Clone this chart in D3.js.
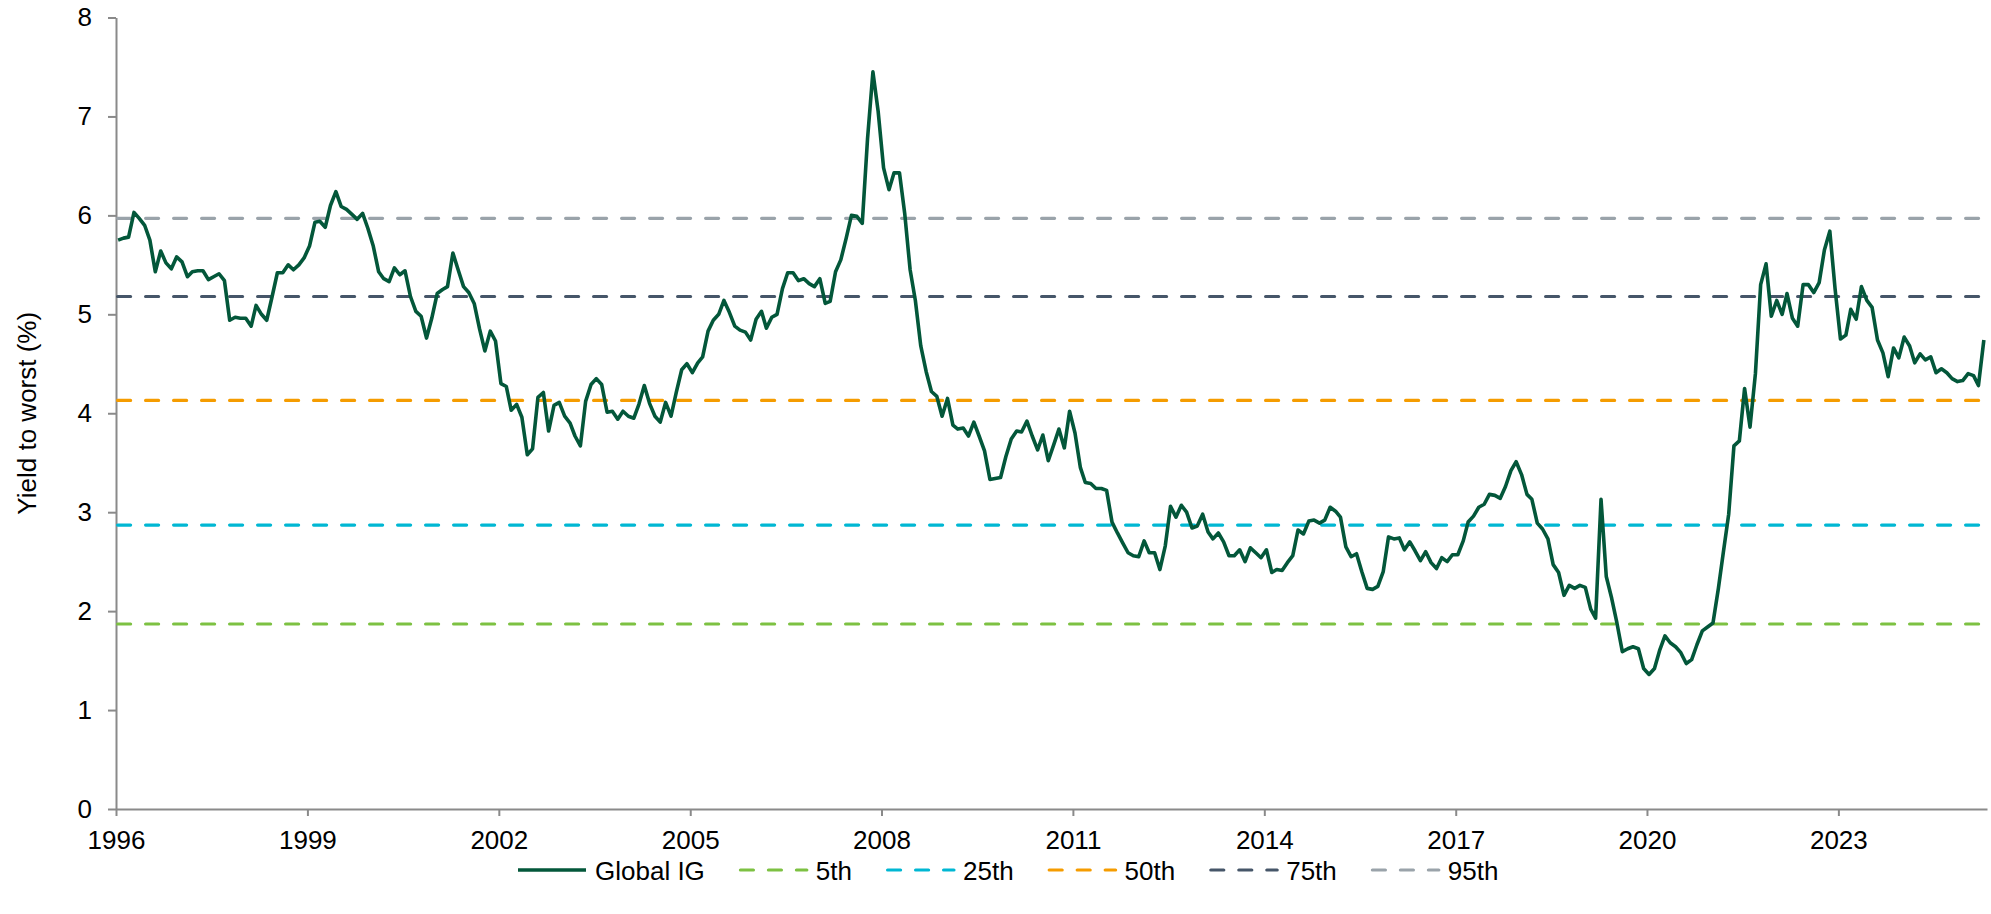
<!DOCTYPE html>
<html>
<head>
<meta charset="utf-8">
<script src="https://cdn.jsdelivr.net/npm/d3@7/dist/d3.min.js"></script>
<style>
  body { margin: 0; background: #fff; }
  text { font-family: "Liberation Sans", Arial, sans-serif; fill: #000; }
</style>
</head>
<body>
<div id="chart-area"></div>
<script>
// Global IG yield to worst (%), one value per month starting Jan 1996
var firstYear = 1996;
var globalIG = [
  5.75, 5.77, 5.78, 6.03, 5.97, 5.90, 5.75, 5.43, 5.64, 5.52, 5.46, 5.58, // 1996
  5.53, 5.38, 5.43, 5.44, 5.44, 5.35, 5.38, 5.41, 5.34, 4.94, 4.97, 4.96, // 1997
  4.96, 4.88, 5.09, 5.00, 4.94, 5.18, 5.42, 5.42, 5.50, 5.45, 5.50, 5.57, // 1998
  5.69, 5.93, 5.94, 5.88, 6.10, 6.24, 6.09, 6.06, 6.01, 5.96, 6.02, 5.87, // 1999
  5.69, 5.43, 5.36, 5.33, 5.47, 5.40, 5.44, 5.18, 5.03, 4.98, 4.76, 4.96, // 2000
  5.21, 5.25, 5.28, 5.62, 5.45, 5.28, 5.22, 5.11, 4.85, 4.63, 4.83, 4.73, // 2001
  4.30, 4.27, 4.03, 4.09, 3.96, 3.58, 3.64, 4.16, 4.21, 3.82, 4.08, 4.11, // 2002
  3.97, 3.90, 3.77, 3.67, 4.12, 4.29, 4.35, 4.29, 4.01, 4.02, 3.94, 4.02, // 2003
  3.97, 3.95, 4.09, 4.28, 4.10, 3.97, 3.91, 4.11, 3.97, 4.21, 4.44, 4.50, // 2004
  4.41, 4.51, 4.57, 4.83, 4.94, 5.00, 5.14, 5.02, 4.88, 4.84, 4.82, 4.74, // 2005
  4.95, 5.03, 4.86, 4.97, 5.00, 5.26, 5.42, 5.42, 5.34, 5.36, 5.31, 5.28, // 2006
  5.36, 5.11, 5.13, 5.43, 5.55, 5.77, 6.00, 5.99, 5.92, 6.77, 7.45, 7.05, // 2007
  6.48, 6.26, 6.43, 6.43, 6.02, 5.45, 5.14, 4.68, 4.42, 4.22, 4.17, 3.97, // 2008
  4.15, 3.88, 3.84, 3.85, 3.77, 3.91, 3.77, 3.62, 3.33, 3.34, 3.35, 3.56, // 2009
  3.74, 3.82, 3.81, 3.92, 3.77, 3.63, 3.78, 3.52, 3.68, 3.84, 3.65, 4.02, // 2010
  3.80, 3.45, 3.30, 3.29, 3.24, 3.24, 3.22, 2.90, 2.79, 2.69, 2.59, 2.56, // 2011
  2.55, 2.71, 2.59, 2.59, 2.42, 2.66, 3.06, 2.95, 3.07, 3.00, 2.84, 2.86, // 2012
  2.98, 2.80, 2.73, 2.79, 2.70, 2.56, 2.56, 2.62, 2.50, 2.64, 2.59, 2.54, // 2013
  2.62, 2.39, 2.42, 2.41, 2.49, 2.56, 2.82, 2.78, 2.91, 2.92, 2.89, 2.92, // 2014
  3.05, 3.01, 2.95, 2.65, 2.55, 2.58, 2.40, 2.23, 2.22, 2.25, 2.40, 2.75, // 2015
  2.73, 2.74, 2.62, 2.70, 2.61, 2.51, 2.60, 2.49, 2.43, 2.54, 2.50, 2.57, // 2016
  2.57, 2.71, 2.90, 2.96, 3.05, 3.08, 3.18, 3.17, 3.14, 3.26, 3.42, 3.51, // 2017
  3.38, 3.18, 3.13, 2.89, 2.83, 2.73, 2.47, 2.39, 2.16, 2.26, 2.23, 2.26, // 2018
  2.24, 2.02, 1.93, 3.13, 2.35, 2.13, 1.88, 1.59, 1.62, 1.64, 1.62, 1.42, // 2019
  1.36, 1.42, 1.60, 1.75, 1.68, 1.64, 1.58, 1.47, 1.51, 1.66, 1.80, 1.84, // 2020
  1.88, 2.23, 2.59, 2.98, 3.67, 3.72, 4.25, 3.86, 4.40, 5.30, 5.51, 4.98, // 2021
  5.14, 5.00, 5.21, 4.96, 4.88, 5.30, 5.30, 5.22, 5.32, 5.65, 5.84, 5.26, // 2022
  4.75, 4.79, 5.05, 4.95, 5.28, 5.14, 5.07, 4.74, 4.61, 4.37, 4.66, 4.56, // 2023
  4.77, 4.68, 4.51, 4.60, 4.54, 4.57, 4.41, 4.45, 4.41, 4.35, 4.32, 4.33, // 2024
  4.40, 4.38, 4.28, 4.74                                                  // 2025
];

// historical percentiles of the series
var percentileNames = ['5th', '25th', '50th', '75th', '95th'];
var percentileValues = [1.87, 2.87, 4.13, 5.18, 5.97];

// axis ticks
var tickYears = [1996, 1999, 2002, 2005, 2008, 2011, 2014, 2017, 2020, 2023];
var yTicks = [0, 1, 2, 3, 4, 5, 6, 7, 8];

// styles
var lineColor = '#03573a';
var percentileColors = ['#7dc142', '#00b7d3', '#f59c00', '#465669', '#9aa3aa'];

var width = 1991;
var height = 914;
var svg = d3.select('#chart-area').append('svg')
  .attr('width', width)
  .attr('height', height);

// one point per month, drawn a bit into the month like the original
var data = globalIG.map(function (v, i) {
  return { date: new Date(firstYear, i, 13), value: v };
});

var x = d3.scaleTime()
  .domain([new Date(firstYear, 0, 1), new Date(firstYear, globalIG.length, 1)])
  .range([116, 1987]);
var y = d3.scaleLinear().domain([0, 8]).range([809, 17.5]);

// Axes
var xAxisCall = d3.axisBottom(x)
  .tickValues(tickYears.map(function (yr) { return new Date(yr, 0, 1); }))
  .tickFormat(d3.timeFormat('%Y'))
  .tickSizeInner(7)
  .tickSizeOuter(0)
  .tickPadding(14.5);
var yAxisCall = d3.axisLeft(y)
  .tickValues(yTicks)
  .tickFormat(d3.format('d'))
  .tickSizeInner(8)
  .tickSizeOuter(0)
  .tickPadding(16);

var xAxis = svg.append('g')
  .attr('class', 'x-axis')
  .attr('transform', 'translate(0,' + y(0) + ')')
  .call(xAxisCall);
var yAxis = svg.append('g')
  .attr('class', 'y-axis')
  .attr('transform', 'translate(' + x.range()[0] + ',0)')
  .call(yAxisCall);

svg.selectAll('.x-axis path, .y-axis path, .x-axis line, .y-axis line')
  .attr('stroke', '#8a8a8a')
  .attr('stroke-width', 2);
svg.selectAll('.x-axis text, .y-axis text')
  .attr('font-size', 26)
  .attr('font-family', '"Liberation Sans", Arial, sans-serif')
  .attr('fill', '#000');

// y axis title
svg.append('text')
  .attr('transform', 'translate(36,' + ((y(0) + y(8)) / 2) + ') rotate(-90)')
  .attr('text-anchor', 'middle')
  .attr('font-size', 26)
  .text('Yield to worst (%)');

// percentile lines
percentileValues.forEach(function (v, i) {
  svg.append('line')
    .attr('class', 'pct-line')
    .attr('x1', x.range()[0])
    .attr('x2', x.range()[1])
    .attr('y1', y(v))
    .attr('y2', y(v))
    .attr('stroke', percentileColors[i])
    .attr('stroke-width', 3.2)
    .attr('stroke-linecap', 'round')
    .attr('stroke-dasharray', '13 15')
    .attr('stroke-dashoffset', -1.6);
});

// main line
var igLine = d3.line()
  .x(function (d) { return x(d.date); })
  .y(function (d) { return y(d.value); });

svg.append('path')
  .attr('class', 'line')
  .attr('fill', 'none')
  .attr('stroke', lineColor)
  .attr('stroke-width', 3.6)
  .attr('stroke-linejoin', 'round')
  .attr('d', igLine(data));

// legend
var legendItems = [{ name: 'Global IG', color: lineColor, dashed: false }];
percentileNames.forEach(function (n, i) {
  legendItems.push({ name: n, color: percentileColors[i], dashed: true });
});

var legend = svg.append('g').attr('class', 'legend');
var lx = 518;
var ly = 870;
legendItems.forEach(function (item) {
  var g = legend.append('g').attr('transform', 'translate(' + lx + ',' + ly + ')');
  var sample = g.append('line')
    .attr('x1', item.dashed ? 1.6 : 0)
    .attr('x2', 68)
    .attr('y1', 0)
    .attr('y2', 0)
    .attr('stroke', item.color)
    .attr('stroke-width', item.dashed ? 3.2 : 3.6);
  if (item.dashed) {
    sample.attr('stroke-linecap', 'round').attr('stroke-dasharray', '13 15');
  }
  var t = g.append('text')
    .attr('x', 77)
    .attr('y', 9.5)
    .attr('font-size', 26)
    .text(item.name);
  lx += 77 + t.node().getComputedTextLength() + 34;
});
</script>
</body>
</html>
